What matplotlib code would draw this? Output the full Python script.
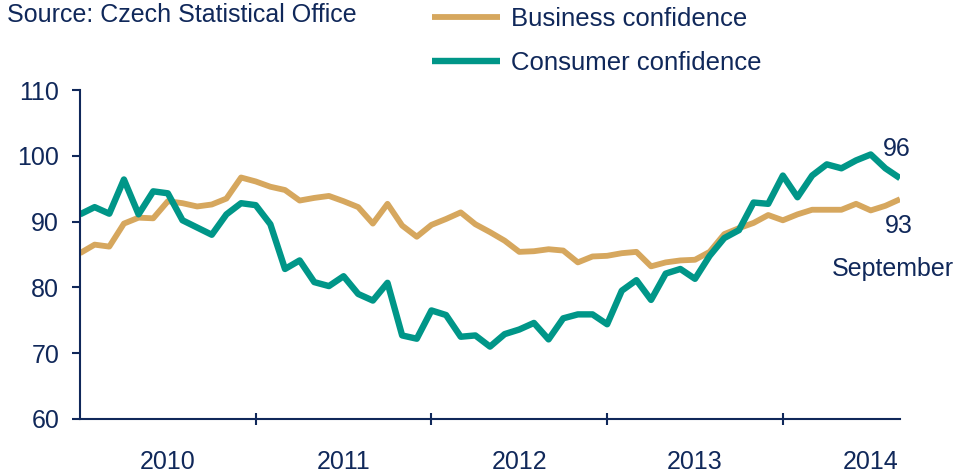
import matplotlib
matplotlib.use("Agg")
import matplotlib.pyplot as plt
import numpy as np

plt.rcParams['font.family'] = ['Liberation Sans', 'DejaVu Sans']

# Monthly data, Jan 2010 .. Sep 2014
months = np.arange(57)
business = [85.2, 86.5, 86.2, 89.7, 90.6, 90.5, 93.1, 92.8, 92.3, 92.6, 93.5, 96.7,
            96.1, 95.3, 94.8, 93.2, 93.6, 93.9, 93.1, 92.2, 89.7, 92.7, 89.4, 87.7,
            89.5, 90.4, 91.4, 89.6, 88.4, 87.1, 85.4, 85.5, 85.8, 85.6, 83.8, 84.7,
            84.8, 85.2, 85.4, 83.2, 83.8, 84.1, 84.2, 85.4, 88.1, 89.0, 89.8, 91.0,
            90.2, 91.1, 91.8, 91.8, 91.8, 92.7, 91.7, 92.4, 93.4]
consumer = [91.1, 92.2, 91.2, 96.4, 91.1, 94.6, 94.3, 90.2, 89.1, 88.0, 91.1, 92.8,
            92.5, 89.6, 82.8, 84.1, 80.8, 80.2, 81.7, 79.0, 78.0, 80.7, 72.7, 72.2,
            76.5, 75.8, 72.5, 72.7, 71.0, 72.9, 73.6, 74.6, 72.1, 75.3, 75.9, 75.9,
            74.4, 79.5, 81.1, 78.1, 82.1, 82.8, 81.3, 84.8, 87.5, 88.7, 92.9, 92.7,
            97.0, 93.7, 97.0, 98.7, 98.1, 99.3, 100.2, 98.1, 96.6]
year_labels = ['2010', '2011', '2012', '2013', '2014']
year_starts = [12, 24, 36, 48]
year_centers = [6, 18, 30, 42, 54]
yticks = [60, 70, 80, 90, 100, 110]
series_names = ['Business confidence', 'Consumer confidence']
end_labels = ['96', '93', 'September']

TAN = '#D6A75E'
TEAL = '#009688'
NAVY = '#10285A'
FS = 18

fig = plt.figure(figsize=(9.7, 4.74), dpi=100)
ax = fig.add_axes([80/970, 1-419/474, 820/970, (419-90)/474])

l1, = ax.plot(months, business, color=TAN, lw=4.2, solid_joinstyle='round',
              solid_capstyle='butt', label=series_names[0])
l2, = ax.plot(months, consumer, color=TEAL, lw=4.6, solid_joinstyle='round',
              solid_capstyle='butt', label=series_names[1])

ax.set_xlim(0, 56)
ax.set_ylim(60, 110)
ax.set_yticks(yticks)
ax.set_xticks(year_starts)
ax.set_xticklabels([])
ax.set_xticks(year_centers, minor=True)
ax.set_xticklabels(year_labels, minor=True)
ax.tick_params(axis='x', which='major', direction='inout', length=8, width=1.5, color=NAVY)
ax.tick_params(axis='x', which='minor', length=0, pad=22, labelsize=FS, labelcolor=NAVY)
ax.tick_params(axis='y', direction='out', length=6, width=1.5, color=NAVY, pad=9,
               labelsize=FS, labelcolor=NAVY)
for s in ['top', 'right']:
    ax.spines[s].set_visible(False)
for s in ['left', 'bottom']:
    ax.spines[s].set_color(NAVY)
    ax.spines[s].set_linewidth(1.5)

# end annotations
ax.annotate(end_labels[0], xy=(months[-1], consumer[-1]), xytext=(-2, 21),
            textcoords='offset points', ha='center', va='center', fontsize=FS,
            color=NAVY, annotation_clip=False)
ax.annotate(end_labels[1], xy=(months[-1], business[-1]), xytext=(-1, -19),
            textcoords='offset points', ha='center', va='center', fontsize=FS,
            color=NAVY, annotation_clip=False)
ax.annotate(end_labels[2], xy=(months[-1], business[-1]), xytext=(-5, -50),
            textcoords='offset points', ha='center', va='center', fontsize=FS,
            color=NAVY, annotation_clip=False)

fig.text(357/970, 1-15/474, 'Source: Czech Statistical Office', ha='right', va='center',
         fontsize=FS, color=NAVY)

fig.legend(handles=[l1, l2], loc='upper left', bbox_to_anchor=(432/970, 1-7/474),
           frameon=False, fontsize=18.5, handlelength=2.65, handletextpad=0.42,
           labelspacing=0.78, borderpad=0, borderaxespad=0, labelcolor=NAVY)

fig.savefig('out.png', dpi=100)
